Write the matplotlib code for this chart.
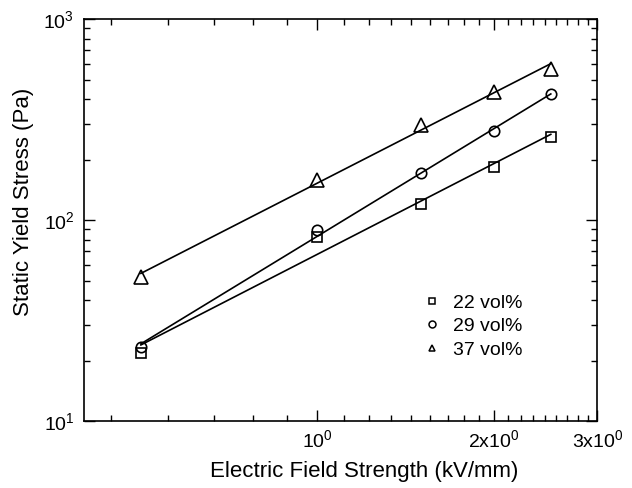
import numpy as np
import matplotlib
matplotlib.use("Agg")
import matplotlib.pyplot as plt
from matplotlib.ticker import FixedLocator, NullFormatter, LogLocator
from matplotlib.lines import Line2D

plt.rcParams['font.family'] = ['Liberation Sans', 'DejaVu Sans']
plt.rcParams['mathtext.fontset'] = 'custom'
plt.rcParams['mathtext.rm'] = 'Liberation Sans'
plt.rcParams['mathtext.default'] = 'regular'

# field strength (kV/mm)
field = [0.5, 1.0, 1.5, 2.0, 2.5]

# static yield stress (Pa) for each volume fraction
stress_22 = [21.7, 82.6, 120, 184, 259]
stress_29 = [23.4, 89, 171, 277, 422]
stress_37 = [52.2, 158, 297, 435, 562]

labels = ["22 vol%", "29 vol%", "37 vol%"]
markers = ["s", "o", "^"]
sizes = [7, 7.5, 10]

x_ticks = [1, 2, 3]
x_ticklabels = [r"$10^{0}$", r"$2x10^{0}$", r"$3x10^{0}$"]

fig = plt.figure(figsize=(6.32, 4.88), dpi=100)
ax = fig.add_axes([0.133, 0.137, 0.812, 0.824])
ax.set_xscale("log")
ax.set_yscale("log")

x = np.array(field)
for y, m, ms in zip([stress_22, stress_29, stress_37], markers, sizes):
    y = np.array(y)
    # power-law fit (straight line in log-log)
    k, b = np.polyfit(np.log10(x), np.log10(y), 1)
    xf = np.array([x[0], x[-1]])
    ax.plot(xf, 10 ** (b + k * np.log10(xf)), color="black", lw=1.2)
    ax.plot(x, y, linestyle="none", marker=m, ms=ms, mfc="none",
            mec="black", mew=1.2)

ax.set_xlim(0.4, 3)
ax.set_ylim(10, 1000)

ax.xaxis.set_major_locator(FixedLocator(x_ticks))
ax.set_xticklabels(x_ticklabels)
minor_x = [1 - k / 9 for k in range(1, 6)] + [1 + k / 9 for k in range(1, 9)] + [2 + k / 9 for k in range(1, 9)]
ax.xaxis.set_minor_locator(FixedLocator(minor_x))
ax.xaxis.set_minor_formatter(NullFormatter())
ax.yaxis.set_major_locator(LogLocator(base=10))
ax.yaxis.set_minor_locator(LogLocator(base=10, subs=np.arange(2, 10)))
ax.yaxis.set_minor_formatter(NullFormatter())

ax.tick_params(which="both", direction="in", top=True, right=True,
               labelsize=14, width=1)
ax.tick_params(axis="x", pad=6)
ax.tick_params(axis="y", pad=7)
ax.tick_params(which="major", length=8)
ax.tick_params(which="minor", length=4)
for s in ax.spines.values():
    s.set_linewidth(1.2)

ax.set_xlabel("Electric Field Strength (kV/mm)", fontsize=16)
ax.set_ylabel("Static Yield Stress (Pa)", fontsize=16)
ax.xaxis.set_label_coords(0.546, -0.100)
ax.yaxis.set_label_coords(-0.097, 0.545)

handles = [Line2D([], [], linestyle="none", marker=m, ms=5, mfc="none",
                  mec="black", mew=1.1) for m in markers]
ax.legend(handles, labels, loc="upper left", bbox_to_anchor=(0.644, 0.335),
          frameon=False, fontsize=14, handletextpad=0.58, labelspacing=0.3,
          handlelength=1.0, borderaxespad=0)

fig.savefig("out.png", dpi=100)
